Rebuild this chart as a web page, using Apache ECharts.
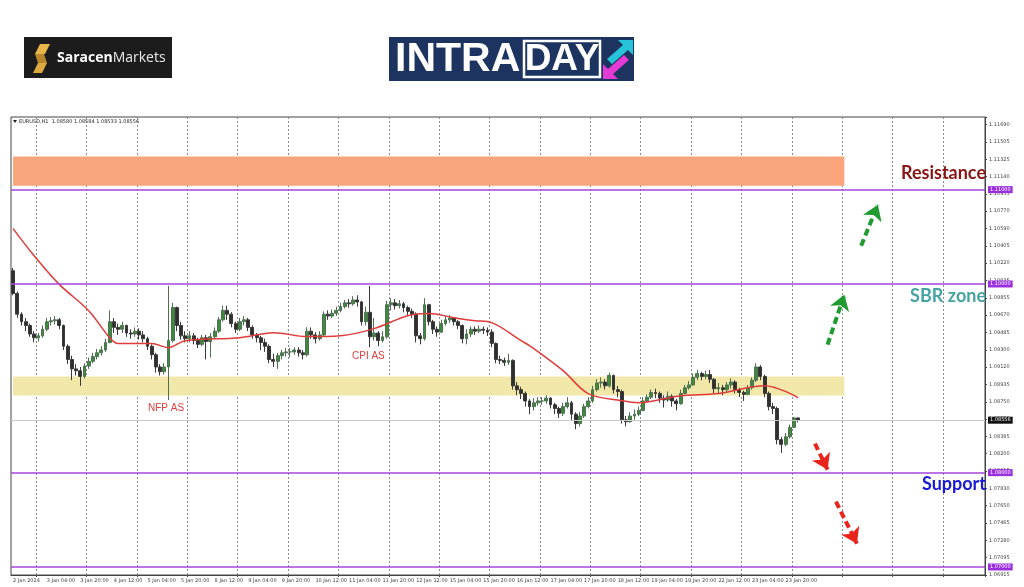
<!DOCTYPE html>
<html><head><meta charset="utf-8">
<script src="https://cdn.jsdelivr.net/npm/echarts@6/dist/echarts.min.js"></script>
<style>html,body{margin:0;padding:0;background:#fff}#c{width:1024px;height:587px}</style>
</head><body><div id="c"></div>
<script>
// ---------- DATA ----------
const tradingDays = ['2 Jan','3 Jan','4 Jan','5 Jan','8 Jan','9 Jan','10 Jan','11 Jan','12 Jan','15 Jan','16 Jan','17 Jan','18 Jan','19 Jan','22 Jan','23 Jan','24 Jan','25 Jan','26 Jan','29 Jan'];
const hourSlots = ['00:00','02:00','04:00','06:00','08:00','10:00','12:00','14:00','16:00','18:00','20:00','22:00'];
const firstLabel = '2 Jan 2024';
const firstOpen = 1.10140;
const closes = [
 1.09900,1.09680,1.09600,1.09560,1.09470,1.09430,
 1.09450,1.09520,1.09600,1.09610,1.09620,1.09560,1.09340,1.09200,1.09100,1.09080,1.09020,1.09130,
 1.09180,1.09230,1.09270,1.09300,1.09380,1.09600,1.09540,1.09520,1.09560,1.09480,1.09470,1.09500,
 1.09460,1.09420,1.09340,1.09250,1.09120,1.09070,1.09120,1.09400,1.09750,1.09560,1.09450,1.09420,
 1.09450,1.09400,1.09360,1.09430,1.09390,1.09440,1.09500,1.09620,1.09720,1.09680,1.09580,1.09520,
 1.09600,1.09620,1.09540,1.09460,1.09430,1.09380,1.09340,1.09200,1.09180,1.09240,1.09270,1.09280,
 1.09280,1.09300,1.09270,1.09250,1.09500,1.09460,1.09420,1.09460,1.09680,1.09660,1.09690,1.09720,
 1.09760,1.09800,1.09790,1.09830,1.09810,1.09600,1.09700,1.09440,1.09480,1.09400,1.09440,1.09780,
 1.09800,1.09770,1.09790,1.09750,1.09710,1.09680,1.09450,1.09420,1.09780,1.09600,1.09520,1.09490,
 1.09580,1.09620,1.09640,1.09600,1.09560,1.09420,1.09470,1.09520,1.09500,1.09520,1.09510,1.09490,
 1.09370,1.09200,1.09190,1.09170,1.09190,1.08920,1.08880,1.08840,1.08760,1.08700,1.08740,1.08760,
 1.08760,1.08790,1.08720,1.08680,1.08630,1.08700,1.08740,1.08620,1.08520,1.08600,1.08700,1.08760,
 1.08880,1.08950,1.08960,1.08920,1.09030,1.08880,1.08860,1.08560,1.08540,1.08600,1.08620,1.08660,
 1.08760,1.08800,1.08850,1.08840,1.08790,1.08770,1.08810,1.08760,1.08730,1.08840,1.08900,1.08930,
 1.09010,1.09050,1.09020,1.09040,1.08990,1.08890,1.08900,1.08880,1.08930,1.08960,1.08880,1.08850,
 1.08830,1.08900,1.08980,1.09120,1.09020,1.08840,1.08700,1.08680,1.08350,1.08300,1.08380,1.08480,
 1.08580,1.08556
];
const highs = [
 1.10170,1.09920,1.09700,1.09640,1.09580,1.09500,
 1.09480,1.09560,1.09640,1.09650,1.09660,1.09640,1.09570,1.09360,1.09240,1.09150,1.09120,1.09160,
 1.09220,1.09270,1.09310,1.09340,1.09420,1.09720,1.09640,1.09580,1.09600,1.09570,1.09520,1.09540,
 1.09530,1.09500,1.09440,1.09360,1.09270,1.09150,1.09160,1.09980,1.09800,1.09760,1.09600,1.09500,
 1.09500,1.09480,1.09430,1.09460,1.09460,1.09480,1.09540,1.09650,1.09770,1.09770,1.09700,1.09600,
 1.09640,1.09660,1.09640,1.09560,1.09480,1.09450,1.09420,1.09360,1.09260,1.09270,1.09300,1.09320,
 1.09320,1.09330,1.09330,1.09300,1.09540,1.09540,1.09490,1.09500,1.09710,1.09720,1.09730,1.09760,
 1.09800,1.09830,1.09840,1.09870,1.09880,1.09820,1.09760,1.09980,1.09640,1.09500,1.09500,1.09820,
 1.09850,1.09840,1.09830,1.09810,1.09770,1.09740,1.09700,1.09480,1.09850,1.09790,1.09620,1.09550,
 1.09620,1.09660,1.09670,1.09650,1.09620,1.09570,1.09520,1.09550,1.09550,1.09560,1.09550,1.09540,
 1.09520,1.09380,1.09240,1.09220,1.09260,1.09200,1.08960,1.08910,1.08860,1.08780,1.08790,1.08800,
 1.08800,1.08820,1.08800,1.08740,1.08700,1.08740,1.08800,1.08760,1.08640,1.08640,1.08730,1.08800,
 1.08920,1.08990,1.09010,1.08990,1.09060,1.09040,1.08920,1.08880,1.08600,1.08640,1.08670,1.08700,
 1.08800,1.08830,1.08880,1.08890,1.08860,1.08820,1.08860,1.08830,1.08780,1.08880,1.08930,1.08970,
 1.09050,1.09090,1.09070,1.09080,1.09090,1.09000,1.08950,1.08930,1.08960,1.09000,1.08980,1.08900,
 1.08870,1.08930,1.09010,1.09160,1.09140,1.09040,1.08860,1.08740,1.08700,1.08380,1.08420,1.08510,
 1.08590,1.08584
];
const lows = [
 1.09880,1.09640,1.09560,1.09500,1.09440,1.09380,
 1.09390,1.09430,1.09500,1.09560,1.09570,1.09520,1.09300,1.09150,1.08980,1.09030,1.08920,1.09000,
 1.09100,1.09160,1.09200,1.09240,1.09280,1.09370,1.09480,1.09460,1.09480,1.09440,1.09420,1.09440,
 1.09410,1.09380,1.09300,1.09200,1.09060,1.09030,1.09040,1.08770,1.09380,1.09500,1.09410,1.09380,
 1.09380,1.09360,1.09320,1.09340,1.09200,1.09220,1.09420,1.09480,1.09600,1.09620,1.09540,1.09480,
 1.09500,1.09560,1.09500,1.09420,1.09380,1.09300,1.09280,1.09160,1.09120,1.09100,1.09200,1.09230,
 1.09220,1.09250,1.09230,1.09200,1.09230,1.09420,1.09370,1.09400,1.09440,1.09620,1.09640,1.09660,
 1.09700,1.09740,1.09750,1.09770,1.09760,1.09560,1.09560,1.09330,1.09400,1.09340,1.09380,1.09420,
 1.09720,1.09730,1.09740,1.09700,1.09670,1.09640,1.09380,1.09360,1.09400,1.09560,1.09470,1.09440,
 1.09480,1.09560,1.09590,1.09560,1.09520,1.09370,1.09360,1.09440,1.09460,1.09480,1.09470,1.09450,
 1.09330,1.09160,1.09150,1.09130,1.09140,1.08880,1.08820,1.08780,1.08700,1.08620,1.08660,1.08710,
 1.08720,1.08730,1.08680,1.08620,1.08580,1.08600,1.08680,1.08560,1.08460,1.08490,1.08580,1.08680,
 1.08740,1.08860,1.08900,1.08880,1.08900,1.08840,1.08800,1.08520,1.08490,1.08530,1.08560,1.08600,
 1.08650,1.08740,1.08780,1.08790,1.08740,1.08690,1.08750,1.08700,1.08660,1.08720,1.08830,1.08880,
 1.08920,1.08980,1.08980,1.08990,1.08950,1.08840,1.08840,1.08820,1.08850,1.08890,1.08840,1.08800,
 1.08760,1.08820,1.08880,1.08960,1.08980,1.08800,1.08660,1.08620,1.08300,1.08210,1.08280,1.08360,
 1.08480,1.08533
];
// moving average (read at selected bars)
const maBars   = [0,5,11,18,23,25,33,37,41,54,62,70,78,86,94,99,105,110,114,121,123,131,137,145,149,159,168,179,187];
const maValues = [1.10587,1.10300,1.09996,1.09717,1.09431,1.09368,1.09368,1.09325,1.09399,1.09431,1.09484,1.09442,1.09452,1.09527,1.09664,1.09686,1.09643,1.09611,1.09590,1.09399,1.09346,1.09081,1.08838,1.08763,1.08742,1.08816,1.08838,1.08922,1.08795];
// y-axis tick labels (bottom to top)
const yTickLabels = ['1.06915','1.07095','1.07280','1.07465','1.07650','1.07830','1.08015','1.08200','1.08385','1.08570','1.08750','1.08935','1.09120','1.09300','1.09485','1.09670','1.09855','1.10035','1.10220','1.10405','1.10590','1.10770','1.10955','1.11140','1.11325','1.11505','1.11690'];
const levelLines = [1.11000, 1.10000, 1.08000, 1.07000];
const lastPrice = 1.08556;
const resistanceZone = [1.11350, 1.11042];
const sbrZone = [1.09018, 1.08817];
const zoneEndBar = 198;
const bullArrows = [[[194,1.09357],[198,1.09887]], [[202,1.10406],[206,1.10841]]];
const bearArrows = [[[191,1.08307],[194,1.08032]], [[196,1.07692],[201,1.07247]]];
const headerText = 'EURUSD,H1  1.08580 1.08584 1.08533 1.08556';

// ---------- BUILD ----------
const totalSlots = 232;
const categories = [];
tradingDays.forEach((d, di) => hourSlots.forEach(h => {
  if (di === 0 && parseInt(h, 10) < 12) return;
  categories.push(d + ' ' + h);
}));
categories.length = totalSlots;
const candles = closes.map((c, i) => [i === 0 ? firstOpen : closes[i - 1], c, lows[i], highs[i]]);
const maData = maBars.map((b, i) => [b, maValues[i]]);

const yMin = 1.06915, yMax = 1.11770, yStep = 0.0018365;
const isMidnight = (idx, val) => typeof val === 'string' && val.endsWith(' 00:00');

const purple = '#a445dd';
const arrowItem = (pair, color) => [
  {coord: pair[0], symbol: 'none', lineStyle: {color: color, width: 4, type: [7, 4]}, label: {show: false}},
  {coord: pair[1], symbol: 'arrow', symbolSize: 15}
];

const chart = echarts.init(document.getElementById('c'), null, {renderer: 'canvas'});
const axisFont = "'DejaVu Sans', sans-serif";
const bigFont = "bold 18px Lato, sans-serif";
chart.setOption({
  animation: false,
  backgroundColor: '#fff',
  grid: {left: 11, right: 39, top: 117, bottom: 12, show: true, borderColor: '#444', borderWidth: 1, backgroundColor: '#fff'},
  xAxis: {
    type: 'category', data: categories, boundaryGap: true,
    axisLine: {lineStyle: {color: '#444'}},
    axisTick: {show: true, interval: isMidnight, length: 2, lineStyle: {color: '#444'}},
    axisLabel: {
      interval: (idx) => idx % 8 === 0 && idx < closes.length,
      formatter: (v, idx) => idx === 0 ? firstLabel : v,
      fontSize: 5, color: '#444', align: 'left', margin: 3, fontFamily: axisFont
    },
    splitLine: {show: true, interval: isMidnight, lineStyle: {color: '#8a8a8a', type: [2, 2], width: 1}}
  },
  yAxis: {
    type: 'value', position: 'right', min: yMin, max: yMax, interval: yStep,
    axisLine: {show: true, lineStyle: {color: '#444'}},
    axisTick: {show: true, length: 2, lineStyle: {color: '#444'}},
    splitLine: {show: false},
    axisLabel: {
      fontSize: 5, color: '#444', margin: 4, fontFamily: axisFont,
      formatter: (v) => {
        const k = Math.round((v - yMin) / yStep);
        if (Math.abs(v - (yMin + k * yStep)) > yStep * 0.05) return '';
        return yTickLabels[k] || '';
      }
    }
  },
  series: [
    {
      type: 'line', data: [], z: 1, silent: true,
      markArea: {
        silent: true,
        data: [
          [{coord: [0, resistanceZone[0]], itemStyle: {color: '#f9a47b'}}, {coord: [zoneEndBar, resistanceZone[1]]}],
          [{coord: [0, sbrZone[0]], itemStyle: {color: '#f0e7a9'}}, {coord: [zoneEndBar, sbrZone[1]]}]
        ]
      }
    },
    {
      type: 'candlestick', name: 'EURUSD,H1', data: candles, z: 2, barWidth: '80%', barMaxWidth: 3.4,
      itemStyle: {color: '#3c8c3c', color0: '#2f2f2f', borderColor: '#4f6f53', borderColor0: '#3a3a3a', borderWidth: 1}
    },
    {
      type: 'line', name: 'MA', data: maData, z: 3, smooth: 0.35, symbol: 'none', silent: true,
      lineStyle: {color: '#e03b3b', width: 1.5},
      markLine: {
        silent: true, symbol: ['none', 'none'], animation: false, precision: 5,
        data: [
          {yAxis: lastPrice, lineStyle: {color: '#c9c9c9', width: 1, type: 'solid'},
           label: {show: true, position: 'end', distance: 3, formatter: () => lastPrice.toFixed(5), fontSize: 5, color: '#fff', backgroundColor: '#111', padding: [1, 2], fontFamily: axisFont}},
          ...levelLines.map(v => ({yAxis: v, lineStyle: {color: purple, width: 1.5, type: 'solid'},
           label: {show: true, position: 'end', distance: 3, formatter: () => v.toFixed(5), fontSize: 5, color: '#fff', backgroundColor: '#9a2fe0', padding: [1, 2], fontFamily: axisFont}})),
          ...bullArrows.map(p => arrowItem(p, '#1f9a30')),
          ...bearArrows.map(p => arrowItem(p, '#e8241c'))
        ]
      }
    }
  ],
  graphic: [
    // Saracen Markets logo
    {type: 'rect', shape: {x: 24, y: 37, width: 148, height: 41}, style: {fill: '#1c1c1c'}},
    {type: 'polygon', shape: {points: [[40,44],[50,44],[45,54],[35,54]]}, style: {fill: '#e7b54a'}},
    {type: 'polygon', shape: {points: [[35,54],[44,54],[47,63],[38,63]]}, style: {fill: '#b8862c'}},
    {type: 'polygon', shape: {points: [[47,63],[38,63],[33,73],[42,73]]}, style: {fill: '#dcaa3e'}},
    {type: 'text', style: {x: 57, y: 58, text: '{b|Saracen}{r|Markets}', textVerticalAlign: 'middle',
      rich: {b: {fontSize: 14, fontWeight: 'bold', fill: '#fff', fontFamily: "'Open Sans', sans-serif"},
             r: {fontSize: 14, fontWeight: 'normal', fill: '#e8e8e8', fontFamily: "'Open Sans', sans-serif"}}}},
    // INTRADAY logo
    {type: 'rect', shape: {x: 389, y: 37, width: 245, height: 44}, style: {fill: '#1d3461'}},
    {type: 'text', style: {x: 395, y: 60, text: 'INTRA', fill: '#fff', font: "bold 41px 'Liberation Sans', sans-serif", textVerticalAlign: 'middle'}},
    {type: 'rect', shape: {x: 524, y: 41, width: 76, height: 36}, style: {fill: 'none', stroke: '#fff', lineWidth: 2.5}},
    {type: 'text', style: {x: 562, y: 60, text: 'DAY', fill: '#fff', font: "bold 37px 'Liberation Sans', sans-serif", textAlign: 'center', textVerticalAlign: 'middle'}},
    {type: 'polygon', shape: {points: [[618,40],[633,40],[633,55],[628,50],[612,64],[607,59],[623,45]]}, style: {fill: '#27c3d8'}},
    {type: 'polygon', shape: {points: [[603,79],[603,64],[608,69],[624,55],[629,60],[613,74],[618,79]]}, style: {fill: '#e33bd4'}},
    // chart header
    {type: 'polygon', shape: {points: [[13,120],[17,120],[15,123]]}, style: {fill: '#222'}},
    {type: 'text', style: {x: 19, y: 122, text: headerText, fill: '#222', font: "5px 'DejaVu Sans', sans-serif", textVerticalAlign: 'middle'}},
    // annotations
    {type: 'text', z: 10, style: {x: 986, y: 173, text: 'Resistance', fill: '#8a1414', font: bigFont, textAlign: 'right', textVerticalAlign: 'middle'}},
    {type: 'text', z: 10, style: {x: 986, y: 296, text: 'SBR zone', fill: '#46a3a2', font: bigFont, textAlign: 'right', textVerticalAlign: 'middle'}},
    {type: 'text', z: 10, style: {x: 986, y: 484, text: 'Support', fill: '#1a1ad6', font: bigFont, textAlign: 'right', textVerticalAlign: 'middle'}},
    {type: 'text', z: 10, style: {x: 148, y: 408, text: 'NFP AS', fill: '#e23d3d', font: "10px 'Liberation Sans', sans-serif", textVerticalAlign: 'middle'}},
    {type: 'text', z: 10, style: {x: 352, y: 356, text: 'CPI AS', fill: '#e23d3d', font: "10px 'Liberation Sans', sans-serif", textVerticalAlign: 'middle'}}
  ]
});
</script></body></html>
